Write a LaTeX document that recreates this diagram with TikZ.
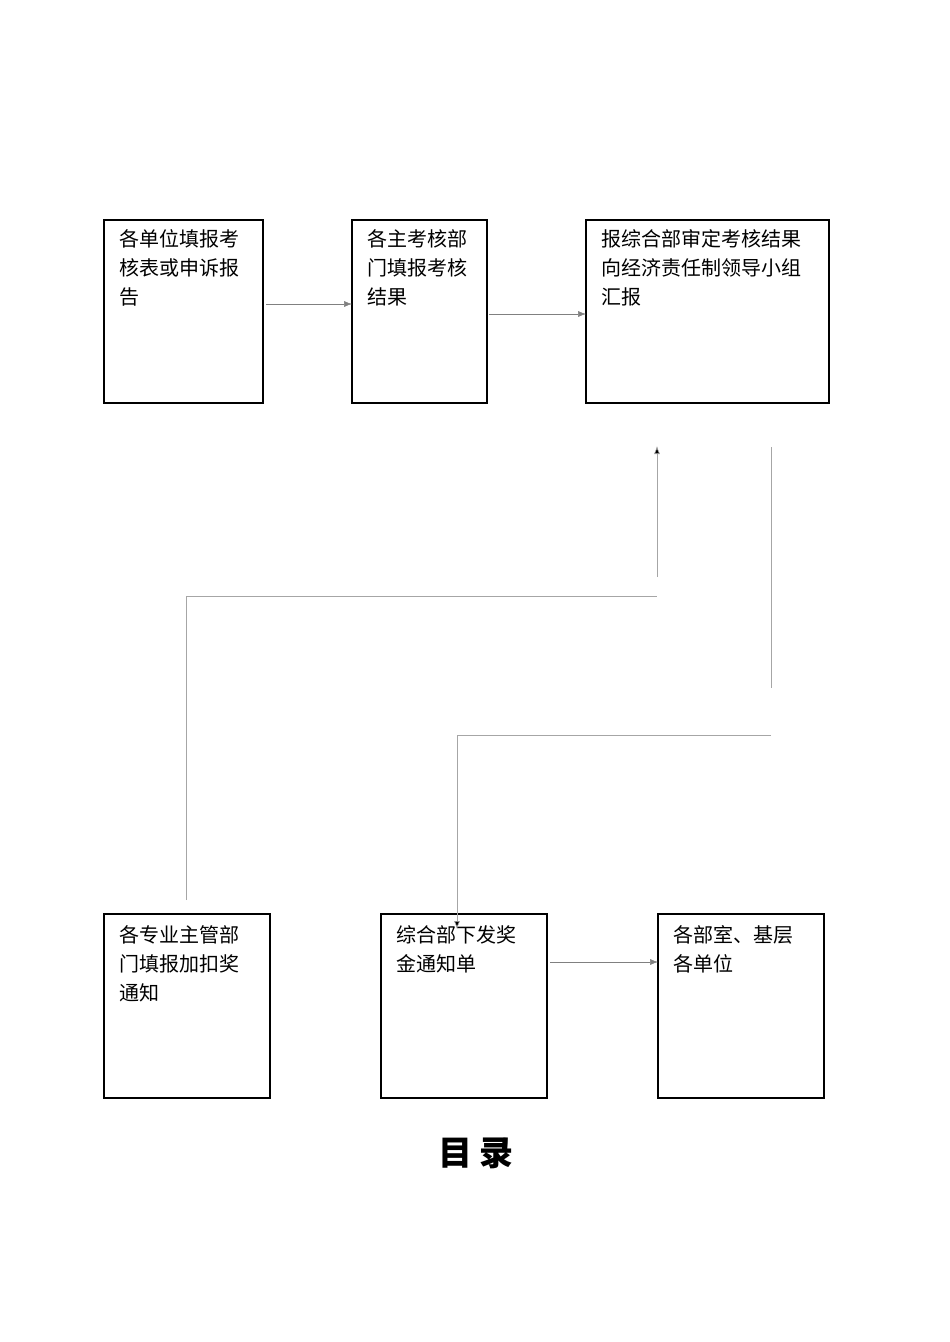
\documentclass[tikz,border=0pt]{standalone}
\usepackage{fontspec}
\newfontfamily\cjk{Noto Sans CJK SC}
\usetikzlibrary{arrows.meta}
\begin{document}
\begin{tikzpicture}[x=1pt,y=-1pt,
  box/.style={draw,line width=1.2pt},
  txt/.style={anchor=north west,align=left,font=\cjk\fontsize{20}{29}\selectfont,inner sep=0pt},
  arr/.style={-{Latex[length=8pt,width=6pt]},line width=0.5pt,draw=gray},
  gline/.style={draw=gray!70,line width=0.6pt}]
\useasboundingbox (0,0) rectangle (950,1342);
\draw[box] (104,220) rectangle (263,403);
\draw[box] (352,220) rectangle (487,403);
\draw[box] (586,220) rectangle (829,403);
\draw[box] (104,914) rectangle (270,1098);
\draw[box] (381,914) rectangle (547,1098);
\draw[box] (658,914) rectangle (824,1098);
\node[txt] (ta) at (119,229) {各单位填报考\\核表或申诉报\\告};
\node[txt] (tb) at (367,229) {各主考核部\\门填报考核\\结果};
\node[txt] (tc) at (601,229) {报综合部审定考核结果\\向经济责任制领导小组\\汇报};
\node[txt] (td) at (119,925) {各专业主管部\\门填报加扣奖\\通知};
\node[txt] (te) at (396,925) {综合部下发奖\\金通知单};
\node[txt] (tf) at (673,925) {各部室、基层\\各单位};
\coordinate (a1) at (266,304); \coordinate (b1) at (352,304);
\coordinate (b2) at (489,314); \coordinate (c1) at (586,314);
\coordinate (e1) at (550,962); \coordinate (f1) at (658,962);
\draw[arr] (a1) -- (b1);
\draw[arr] (b2) -- (c1);
\draw[arr] (e1) -- (f1);
\coordinate (d0) at (186,900); \coordinate (d1) at (186,596); \coordinate (d2) at (657,596);
\coordinate (u0) at (657,577); \coordinate (u1) at (657,446);
\coordinate (r0) at (771,447); \coordinate (r1) at (771,688);
\coordinate (s0) at (771,735); \coordinate (s1) at (457,735); \coordinate (s2) at (457,929);
\draw[gline] (d0) -- (d1) -- (d2);
\draw[gline,-{Latex[length=8pt,width=6pt]},arrows={-{Latex[length=8pt,width=6pt,fill=black]}}] (u0) -- (u1);
\draw[gline] (r0) -- (r1);
\draw[gline,-{Latex[length=8pt,width=6pt,fill=black]}] (s0) -- (s1) -- (s2);
\node[font=\cjk\bfseries\fontsize{34}{40}\selectfont] (title) at (476,1153) {目\ 录};
\end{tikzpicture}
\end{document}
